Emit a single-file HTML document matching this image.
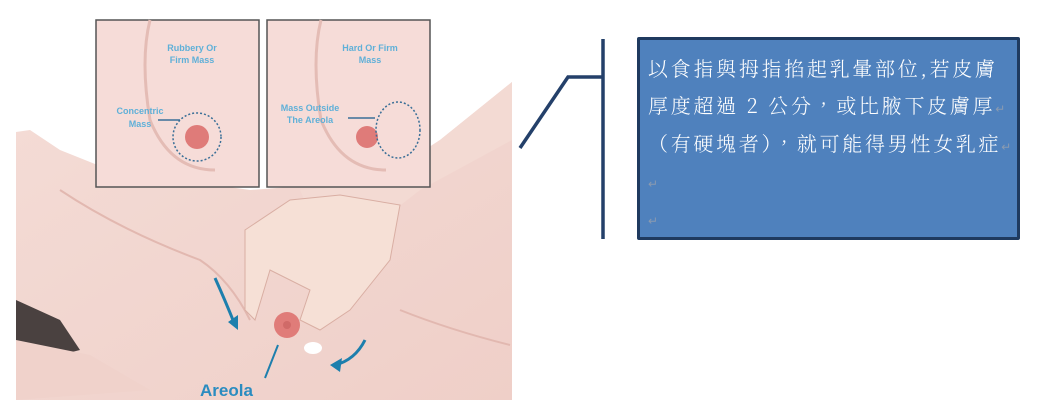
<!DOCTYPE html>
<html><head><meta charset="utf-8"><style>
html,body{margin:0;padding:0;background:#fff;width:1060px;height:411px;overflow:hidden}
.box{position:absolute;left:637px;top:37px;width:383px;height:203px;box-sizing:border-box;background:#4f81bd;border:3px solid #1f3a5f;border-radius:2px}
.t{position:absolute;left:648px;color:#fff;font:20px "Noto Serif CJK TC","Liberation Serif",serif;font-weight:300;white-space:nowrap;letter-spacing:2.7px;line-height:24px}
.r{color:#8a9ab0;font-size:12px;font-family:"Liberation Serif",serif;letter-spacing:0}
</style></head><body>
<svg width="1060" height="411" style="position:absolute;left:0;top:0">
<defs><linearGradient id="sk" x1="0" y1="0" x2="1" y2="1"><stop offset="0" stop-color="#f4dcd6"/><stop offset="1" stop-color="#efcfc8"/></linearGradient></defs>
<path d="M16,132 L30,130 L60,150 L110,170 L250,190 L380,180 L440,140 L512,82 L512,400 L16,400 Z" fill="url(#sk)"/>
<path d="M16,300 L60,320 L80,350 L40,360 L16,350 Z" fill="#4a4140"/>
<path d="M16,340 L90,355 L150,390 L16,400Z" fill="#f0d2cb"/>
<path d="M60,190 Q120,230 200,260 Q230,280 250,320" stroke="#e2b8b0" stroke-width="2" fill="none"/>
<path d="M400,310 Q450,330 510,345" stroke="#e2b8b0" stroke-width="2" fill="none"/>
<path d="M512,82 L512,140 L420,190 L330,260 L300,190 L370,185 L440,140 Z" fill="#f3dad3"/>
<path d="M245,230 L290,200 L340,195 L400,205 L390,260 L350,310 L320,330 L300,320 L310,290 L270,270 L255,320 L245,310 Z" fill="#f6e0d6" stroke="#d9aea3" stroke-width="1"/>
<ellipse cx="313" cy="348" rx="9" ry="6" fill="#fff"/>
<circle cx="287" cy="325" r="13" fill="#e07c79"/>
<circle cx="287" cy="325" r="4" fill="#d06a68"/>
<path d="M215,278 Q225,300 235,325" stroke="#1d7fad" stroke-width="3" fill="none"/>
<path d="M228,322 L238,330 L238,315Z" fill="#1d7fad"/>
<path d="M365,340 Q355,360 335,365" stroke="#1d7fad" stroke-width="3" fill="none"/>
<path d="M330,365 L342,358 L340,372Z" fill="#1d7fad"/>
<line x1="278" y1="345" x2="265" y2="378" stroke="#1d7fad" stroke-width="2"/>
<text x="200" y="396" font-family="Liberation Sans,sans-serif" font-weight="bold" font-size="17" fill="#2a8cc0">Areola</text>
<rect x="96" y="20" width="163" height="167" fill="#f6dcd8" stroke="#555" stroke-width="1.5"/>
<rect x="267" y="20" width="163" height="167" fill="#f6dcd8" stroke="#555" stroke-width="1.5"/>
<path d="M150,20 Q140,60 150,120 Q170,170 215,170" stroke="#e4bcb5" stroke-width="3" fill="none"/>
<path d="M321,20 Q311,60 321,120 Q341,170 386,170" stroke="#e4bcb5" stroke-width="3" fill="none"/>
<circle cx="197" cy="137" r="12" fill="#df7b79"/>
<circle cx="197" cy="137" r="24" fill="none" stroke="#3a6f97" stroke-width="1.5" stroke-dasharray="2,2"/>
<circle cx="367" cy="137" r="11" fill="#df7b79"/>
<ellipse cx="398" cy="130" rx="22" ry="28" fill="none" stroke="#3a6f97" stroke-width="1.5" stroke-dasharray="2,2"/>
<g font-family="Liberation Sans,sans-serif" font-weight="bold" font-size="9" fill="#5fb0d8" text-anchor="middle">
<text x="192" y="51">Rubbery Or</text><text x="192" y="63">Firm Mass</text>
<text x="370" y="51">Hard Or Firm</text><text x="370" y="63">Mass</text>
<text x="140" y="114">Concentric</text><text x="140" y="127">Mass</text>
<text x="310" y="111">Mass Outside</text><text x="310" y="123">The Areola</text>
</g>
<line x1="158" y1="120" x2="180" y2="120" stroke="#3a6f97" stroke-width="1.5"/>
<line x1="348" y1="118" x2="375" y2="118" stroke="#3a6f97" stroke-width="1.5"/>
<polyline points="520,148 568,77 602,77" fill="none" stroke="#24406a" stroke-width="3.5"/>
<line x1="603" y1="39" x2="603" y2="239" stroke="#24406a" stroke-width="3.5"/>
</svg>
<div class="box"></div>
<div class="t" style="top:56px">以食指與拇指掐起乳暈部位,若皮膚</div>
<div class="t" style="top:93px">厚度超過 2 公分，或比腋下皮膚厚<span class="r">↵</span></div>
<div class="t" style="top:131px">（有硬塊者），就可能得男性女乳症<span class="r">↵</span></div>
<div class="t" style="top:168px"><span class="r">↵</span></div>
<div class="t" style="top:205px"><span class="r">↵</span></div>
</body></html>
